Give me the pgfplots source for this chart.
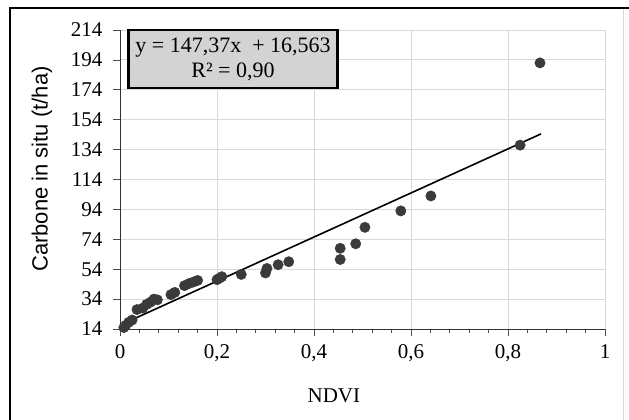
\documentclass[border=0pt]{standalone}
\usepackage{pgfplots}
\pgfplotsset{compat=1.18}
\usepackage{fontspec}
\setmainfont{Liberation Serif}
\newfontfamily\labsans{Liberation Sans}
\definecolor{gridc}{HTML}{D9D9D9}
\definecolor{dotc}{HTML}{3A3A3A}
\definecolor{boxc}{HTML}{D3D3D3}
\begin{document}
\begin{tikzpicture}
\useasboundingbox (0,0) rectangle (629bp,-420bp);
\draw[line width=2.2bp, black] (10bp,-420bp) -- (10bp,-8bp) -- (629bp,-8bp);
\draw[line width=0.6bp, gray!30] (623bp,-9bp) -- (623bp,-420bp);
\begin{axis}[
  at={(120bp,-329bp)}, anchor=south west,
  scale only axis, width=485bp, height=299bp,
  xmin=0, xmax=1, ymin=14, ymax=214,
  xtick={0,0.2,0.4,0.6,0.8,1},
  xticklabels={0,{0,2},{0,4},{0,6},{0,8},1},
  minor x tick num=4,
  ytick={14,34,54,74,94,114,134,154,174,194,214},
  axis x line*=bottom, axis y line*=left,
  axis line style={-, line width=1bp, black!80},
  tick align=outside,
  major tick length=7bp, minor tick length=4bp,
  tick style={line width=0.8bp, black!70},
  grid=major,
  major grid style={gridc, line width=0.9bp},
  /pgf/number format/assume math mode=true,
  ticklabel style={font=\fontsize{21bp}{24bp}\selectfont},
  xticklabel style={yshift=-5bp},
  yticklabel style={xshift=-7bp},
  xlabel={NDVI},
  ylabel={Carbone in situ (t/ha)},
  xlabel style={font=\fontsize{21bp}{24bp}\selectfont, at={(axis description cs:0.441,-0.224)}, anchor=center},
  ylabel style={font=\labsans\fontsize{22bp}{24bp}\selectfont, at={(axis description cs:-0.161,0.535)}, anchor=center},
  clip=false,
]
\addplot[only marks, mark=*, mark size=5.2bp, mark options={fill=dotc, draw=dotc}] coordinates {
(0.008,15) (0.012,16.5) (0.018,18.5) (0.025,20) (0.035,27) (0.047,28)
(0.055,30.5) (0.063,32) (0.070,34) (0.077,33.5) (0.105,37) (0.113,38.5)
(0.133,43) (0.143,44.5) (0.152,45.5) (0.160,46.5) (0.200,47) (0.205,48)
(0.210,49) (0.250,50.5) (0.300,51.5) (0.303,54.5) (0.326,57) (0.348,59)
(0.454,60.5) (0.454,68) (0.486,71) (0.505,82) (0.579,93) (0.641,103)
(0.825,137) (0.866,192)
};
\addplot[black, line width=1.6bp] coordinates {(0.005,17.3) (0.868,144.5)};
\end{axis}
\node[draw=black, line width=2.2bp, fill=boxc, minimum width=209bp, minimum height=58bp, align=center, inner sep=2bp, font=\fontsize{22bp}{25bp}\selectfont] at (233bp,-59bp) {y = 147,37x \ + 16,563\\R² = 0,90};
\end{tikzpicture}
\end{document}
